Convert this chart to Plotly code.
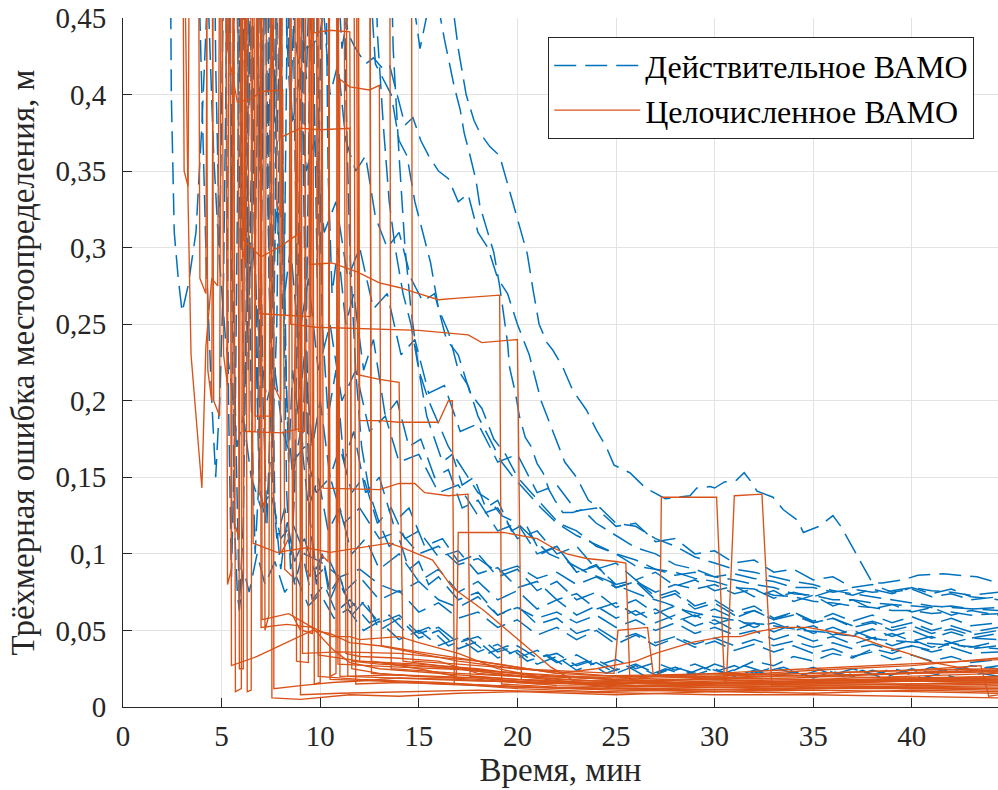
import plotly.graph_objects as go

# ---------------- data (time, min ; 3D error, m) ----------------
b01 = [(2.3,0.70),(2.45,0.40),(2.6,0.31),(2.8,0.28),(3.0,0.258),(3.3,0.275),(3.7,0.31),(4.0,0.38),(4.3,0.47),(4.6,0.36),(4.9,0.29),(5.2,0.24),(5.5,0.21),(5.8,0.17),(6.1,0.19),(6.5,0.15),(7.0,0.13),(7.5,0.14),(8.0,0.11),(8.6,0.12),(9.2,0.1),(10,0.095),(11,0.085),(12,0.09),(13,0.08),(14,0.075),(15,0.082),(16,0.07),(17,0.065),(18,0.072),(19,0.06),(20,0.065),(21,0.058),(22,0.062),(23,0.055),(24,0.06),(25,0.052),(26,0.057),(27,0.05),(28,0.055),(29,0.048),(30,0.052),(31,0.047),(32,0.05),(33,0.044),(34,0.048),(35,0.043),(36,0.046),(37,0.041),(38,0.045),(39,0.04),(40,0.044),(41,0.039),(42,0.042),(43,0.038),(44.4,0.04)]
b02 = [(3.5,0.8),(3.9,0.45),(4.2,0.3),(4.5,0.2),(4.7,0.15),(4.9,0.2),(5.1,0.28),(5.3,0.45),(5.5,0.7),(5.8,0.5),(6.0,0.35),(6.3,0.27),(6.6,0.3),(6.9,0.24),(7.3,0.2),(7.7,0.22),(8.1,0.18),(8.6,0.16),(9.2,0.17),(9.8,0.14),(10.5,0.15),(11.2,0.12),(12,0.13),(13,0.11),(14,0.115),(15,0.1),(16,0.105),(17,0.093),(18,0.097),(19,0.088),(20,0.092),(21,0.084),(22,0.088),(23,0.08),(24,0.085),(25,0.078),(26,0.082),(27,0.075),(28,0.08),(29,0.077),(30,0.08),(31,0.074),(32,0.077),(33,0.071),(34,0.075),(35,0.072),(36,0.076),(37,0.073),(38,0.077),(39,0.074),(40,0.078),(41,0.074),(42,0.077),(43,0.072),(44.4,0.07)]
b03 = [(4.4,0.8),(4.7,0.42),(4.9,0.3),(5.1,0.45),(5.3,0.65),(5.5,0.32),(5.7,0.18),(5.9,0.066),(6.1,0.12),(6.3,0.3),(6.5,0.5),(6.7,0.26),(6.9,0.15),(7.2,0.12),(7.5,0.16),(7.8,0.11),(8.2,0.13),(8.7,0.095),(9.2,0.11),(9.8,0.085),(10.5,0.095),(11.2,0.075),(12,0.085),(13,0.07),(14,0.076),(15,0.062),(16,0.068),(17,0.058),(18,0.062),(19,0.052),(20,0.057),(21,0.047),(22,0.052),(23,0.044),(24,0.05),(25,0.041),(26,0.047),(27,0.04),(28,0.045),(29,0.039),(30,0.043),(31,0.037),(32,0.041),(33,0.036),(34,0.04),(35,0.035),(36,0.038),(37,0.033),(38,0.036),(39,0.031),(40,0.034),(41,0.03),(42,0.033),(43,0.029),(44.4,0.031)]
b04 = [(5.0,0.9),(5.2,0.5),(5.35,0.2),(5.5,0.085),(5.7,0.2),(5.9,0.45),(6.1,0.7),(6.3,0.4),(6.5,0.2),(6.7,0.1),(6.9,0.15),(7.1,0.4),(7.3,0.6),(7.5,0.3),(7.7,0.13),(8.0,0.09),(8.3,0.12),(8.7,0.08),(9.1,0.1),(9.6,0.07),(10.2,0.08),(10.8,0.062),(11.5,0.07),(12.5,0.055),(13.5,0.06),(14.5,0.047),(15.5,0.052),(16.5,0.04),(17.5,0.045),(18.5,0.035),(19.5,0.04),(20.5,0.03),(21.5,0.034),(22.5,0.026),(23.5,0.03),(24.5,0.022),(25.5,0.027),(26.5,0.02),(27.5,0.025),(28.5,0.021),(29.5,0.026),(30.5,0.022),(31.5,0.027),(32.5,0.023),(33.5,0.026),(34.5,0.021),(35.5,0.025),(36.5,0.02),(37.5,0.024),(38.5,0.019),(39.5,0.023),(40.5,0.019),(41.5,0.022),(42.5,0.018),(43.5,0.022),(44.4,0.02)]
b05 = [(5.6,0.9),(5.8,0.45),(5.95,0.3),(6.1,0.45),(6.3,0.75),(6.5,0.4),(6.7,0.3),(6.9,0.45),(7.1,0.7),(7.3,0.35),(7.5,0.25),(7.8,0.33),(8.1,0.26),(8.5,0.3),(8.9,0.24),(9.4,0.28),(9.9,0.22),(10.5,0.25),(11.1,0.2),(11.8,0.22),(12.5,0.18),(13.3,0.19),(14,0.16),(15,0.165),(16,0.14),(17,0.145),(18,0.125),(19,0.13),(20,0.11),(21,0.115),(22,0.1),(23,0.105),(24,0.09),(25,0.094),(26,0.083),(27,0.088),(28,0.079),(29,0.083),(30,0.076),(31,0.079),(32,0.072),(33,0.076),(34,0.069),(35,0.073),(36,0.066),(37,0.07),(38,0.064),(39,0.067),(40,0.062),(41,0.065),(42,0.06),(43,0.063),(44.4,0.06)]
b06 = [(6.0,0.9),(6.2,0.4),(6.35,0.22),(6.5,0.35),(6.7,0.6),(6.9,0.38),(7.1,0.2),(7.3,0.12),(7.5,0.2),(7.7,0.42),(7.9,0.65),(8.1,0.35),(8.3,0.2),(8.6,0.15),(9.0,0.18),(9.4,0.13),(9.9,0.15),(10.4,0.115),(11,0.13),(11.6,0.1),(12.3,0.11),(13,0.09),(14,0.1),(15,0.082),(16,0.09),(17,0.075),(18,0.082),(19,0.07),(20,0.076),(21,0.064),(22,0.07),(23,0.06),(24,0.066),(25,0.058),(26,0.063),(27,0.055),(28,0.06),(29,0.053),(30,0.057),(31,0.05),(32,0.055),(33,0.049),(34,0.054),(35,0.048),(36,0.052),(37,0.047),(38,0.051),(39,0.046),(40,0.05),(41,0.045),(42,0.049),(43,0.045),(44.4,0.048)]
b07 = [(6.6,0.9),(6.8,0.45),(7.0,0.33),(7.2,0.45),(7.4,0.7),(7.6,0.42),(7.8,0.36),(8.0,0.48),(8.2,0.7),(8.4,0.43),(8.6,0.38),(8.9,0.41),(9.3,0.35),(9.7,0.37),(10.2,0.31),(10.8,0.33),(11.4,0.28),(12,0.3),(12.7,0.26),(13.4,0.27),(14.1,0.23),(14.8,0.24),(15.5,0.205),(16.3,0.21),(17.1,0.18),(18,0.185),(19,0.16),(20,0.165),(21,0.14),(22,0.145),(23,0.128),(24,0.13),(25,0.118),(26,0.12),(27,0.108),(28,0.11),(29,0.1),(30,0.102),(31,0.094),(32,0.096),(33,0.088),(34,0.09),(35,0.083),(36,0.085),(37,0.078),(38,0.08),(39,0.075),(40,0.077),(41,0.072),(42,0.074),(43,0.07),(44.4,0.072)]
b08 = [(7.2,0.9),(7.4,0.35),(7.55,0.15),(7.7,0.3),(7.9,0.55),(8.1,0.3),(8.3,0.14),(8.5,0.09),(8.7,0.14),(8.9,0.3),(9.1,0.5),(9.3,0.25),(9.5,0.12),(9.8,0.08),(10.1,0.1),(10.5,0.07),(11,0.085),(11.6,0.06),(12.3,0.07),(13,0.05),(14,0.058),(15,0.045),(16,0.05),(17,0.038),(18,0.043),(19,0.032),(20,0.037),(21,0.028),(22,0.033),(23,0.024),(24,0.029),(25,0.022),(26,0.027),(27,0.021),(28,0.026),(29,0.022),(30,0.028),(31,0.024),(32,0.03),(33,0.027),(34,0.033),(35,0.03),(36,0.035),(37,0.032),(38,0.038),(39,0.035),(40,0.04),(41,0.037),(42,0.042),(43,0.039),(44.4,0.043)]
b09 = [(7.8,0.9),(8.0,0.45),(8.15,0.25),(8.3,0.4),(8.5,0.65),(8.7,0.38),(8.9,0.22),(9.1,0.17),(9.3,0.25),(9.5,0.45),(9.7,0.7),(9.9,0.4),(10.1,0.25),(10.4,0.19),(10.8,0.22),(11.2,0.16),(11.7,0.18),(12.3,0.14),(13,0.15),(13.7,0.12),(14.5,0.13),(15.3,0.105),(16.2,0.11),(17,0.095),(18,0.1),(19,0.085),(20,0.09),(21,0.076),(22,0.082),(23,0.07),(24,0.075),(25,0.065),(26,0.07),(27,0.061),(28,0.066),(29,0.059),(30,0.064),(31,0.058),(32,0.063),(33,0.057),(34,0.062),(35,0.056),(36,0.061),(37,0.056),(38,0.06),(39,0.055),(40,0.059),(41,0.054),(42,0.058),(43,0.053),(44.4,0.055)]
b10 = [(8.5,0.9),(8.7,0.44),(8.9,0.42),(9.2,0.43),(9.6,0.432),(10.0,0.44),(10.3,0.47),(10.6,0.6),(11.0,0.5),(11.4,0.44),(11.8,0.43),(12.3,0.42),(12.7,0.424),(13.1,0.418),(13.5,0.42),(13.9,0.4),(14.3,0.38),(14.7,0.385),(15.1,0.37),(15.5,0.36),(16,0.35),(16.5,0.345),(17,0.33),(17.5,0.335),(18,0.31),(18.5,0.3),(19,0.28),(19.5,0.27),(20,0.25),(20.6,0.23),(21.2,0.2),(21.8,0.18),(22.4,0.16),(23,0.15),(23.6,0.135),(24.2,0.13),(25,0.12),(26,0.118),(27,0.11),(28,0.105),(29,0.098),(30,0.094),(31,0.09),(32,0.088),(33,0.085),(34,0.082),(35,0.08),(36,0.076),(37,0.074),(38,0.072),(39,0.07),(40,0.068),(41,0.066),(42,0.065),(43,0.064),(44.4,0.063)]
b11 = [(9.5,0.9),(9.7,0.4),(9.85,0.28),(10.0,0.4),(10.2,0.6),(10.4,0.35),(10.6,0.27),(10.9,0.3),(11.3,0.25),(11.7,0.27),(12.2,0.22),(12.7,0.24),(13.3,0.19),(13.9,0.2),(14.5,0.17),(15.1,0.175),(15.8,0.15),(16.5,0.155),(17.2,0.13),(18,0.135),(19,0.115),(20,0.12),(21,0.1),(22,0.105),(23,0.088),(24,0.092),(25,0.08),(26,0.083),(27,0.072),(28,0.076),(29,0.066),(30,0.07),(31,0.062),(32,0.066),(33,0.058),(34,0.062),(35,0.055),(36,0.058),(37,0.052),(38,0.055),(39,0.05),(40,0.053),(41,0.048),(42,0.051),(43,0.047),(44.4,0.05)]
b12 = [(10.5,0.9),(10.8,0.5),(11.1,0.43),(11.5,0.46),(11.9,0.6),(12.4,0.5),(12.8,0.42),(13.2,0.41),(13.6,0.4),(14,0.37),(14.4,0.36),(14.8,0.33),(15.2,0.31),(15.6,0.29),(16,0.26),(16.5,0.245),(17,0.22),(17.5,0.21),(18,0.19),(18.6,0.175),(19.2,0.16),(19.8,0.15),(20.5,0.14),(21.2,0.13),(22,0.12),(23,0.112),(24,0.106),(25,0.1),(26,0.096),(27,0.09),(28,0.088),(29,0.084),(30,0.082),(31,0.078),(32,0.077),(33,0.073),(34,0.072),(35,0.069),(36,0.068),(37,0.066),(38,0.065),(39,0.063),(40,0.063),(41,0.061),(42,0.062),(43,0.06),(44.4,0.061)]
b13 = [(14.3,0.5),(15.06,0.43),(15.7,0.47),(16.1,0.45),(16.3,0.436),(16.6,0.418),(16.8,0.405),(17.1,0.39),(17.3,0.375),(17.6,0.36),(17.9,0.344),(18.1,0.327),(18.5,0.31),(18.8,0.297),(19.1,0.275),(19.5,0.238),(19.6,0.222),(19.9,0.205),(20.1,0.19),(20.4,0.176),(20.7,0.17),(21.0,0.159),(21.3,0.153),(21.6,0.142),(21.9,0.135),(22.3,0.127),(22.8,0.127),(23.3,0.129),(24,0.12),(25,0.112),(26,0.104),(27,0.1),(28,0.093),(29,0.09),(30,0.085),(31,0.083),(32,0.08),(33,0.078),(34,0.074),(35,0.073),(36,0.07),(37,0.07),(38,0.068),(39,0.067),(40,0.066),(41,0.065),(42,0.066),(43,0.064),(44.4,0.065)]
b14 = [(16.6,0.47),(17.0,0.43),(17.4,0.40),(17.8,0.383),(18.1,0.375),(18.6,0.366),(19.1,0.36),(19.6,0.337),(20.0,0.32),(20.5,0.296),(20.8,0.272),(21.1,0.25),(21.5,0.238),(21.8,0.233),(22.3,0.222),(22.8,0.207),(23.5,0.194),(24.0,0.181),(24.5,0.17),(24.9,0.158),(25.7,0.153),(26.5,0.143),(27.5,0.136),(28.75,0.138),(29.1,0.143),(29.77,0.144),(30.0,0.143),(30.5,0.147),(31.1,0.148),(31.5,0.153),(31.8,0.148),(32.15,0.141),(32.96,0.137),(33.47,0.129),(34.2,0.122),(34.5,0.114),(35.3,0.118),(36.0,0.125),(36.4,0.118),(36.7,0.111),(37.2,0.1),(37.5,0.093),(38.0,0.081),(38.5,0.081),(39.55,0.083),(40.3,0.086),(41.6,0.087),(43.3,0.085),(44.4,0.081)]
b15 = [(12.6,0.6),(12.9,0.44),(13.2,0.38),(13.5,0.33),(13.8,0.3),(14.2,0.27),(14.6,0.25),(15.0,0.22),(15.5,0.2),(16,0.185),(16.5,0.17),(17,0.16),(17.5,0.15),(18,0.14),(18.6,0.135),(19.2,0.125),(20,0.12),(20.8,0.11),(21.6,0.1),(22.5,0.095),(23.5,0.088),(24.5,0.083),(25.5,0.077),(26.5,0.072),(27.5,0.068),(28.5,0.063),(29.5,0.06),(30.5,0.058),(31.5,0.055),(32.5,0.054),(33.5,0.052),(34.5,0.05),(35.5,0.049),(36.5,0.047),(37.5,0.046),(38.5,0.044),(39.5,0.043),(40.5,0.042),(41.5,0.041),(42.5,0.04),(43.5,0.039),(44.4,0.038)]
b16 = [(11.0,0.7),(11.3,0.4),(11.5,0.3),(11.8,0.22),(12.1,0.17),(12.5,0.14),(13,0.12),(13.5,0.105),(14,0.11),(14.5,0.09),(15,0.095),(15.5,0.08),(16,0.085),(17,0.07),(18,0.075),(19,0.06),(20,0.066),(21,0.054),(22,0.058),(23,0.048),(24,0.052),(25,0.044),(26,0.048),(27,0.042),(28,0.046),(29,0.041),(30,0.045),(31,0.04),(32,0.044),(33,0.04),(34,0.043),(35,0.039),(36,0.042),(37,0.038),(38,0.041),(39,0.037),(40,0.04),(41,0.036),(42,0.039),(43,0.035),(44.4,0.036)]
b17 = [(13.4,0.6),(13.7,0.43),(14.0,0.36),(14.3,0.3),(14.6,0.26),(15,0.22),(15.4,0.19),(15.8,0.175),(16.2,0.16),(16.7,0.165),(17.2,0.145),(17.8,0.15),(18.4,0.13),(19,0.135),(19.7,0.115),(20.4,0.12),(21.2,0.1),(22,0.105),(23,0.088),(24,0.093),(25,0.078),(26,0.082),(27,0.07),(28,0.074),(29,0.064),(30,0.068),(31,0.06),(32,0.063),(33,0.057),(34,0.06),(35,0.055),(36,0.058),(37,0.053),(38,0.056),(39,0.052),(40,0.055),(41,0.05),(42,0.053),(43,0.049),(44.4,0.052)]
b18 = [(8.9,0.8),(9.1,0.4),(9.3,0.2),(9.5,0.12),(9.8,0.09),(10.1,0.1),(10.5,0.075),(11,0.085),(11.5,0.065),(12,0.07),(13,0.055),(14,0.06),(15,0.048),(16,0.052),(17,0.042),(18,0.046),(19,0.036),(20,0.04),(21,0.032),(22,0.035),(23,0.027),(24,0.031),(25,0.024),(26,0.028),(27,0.022),(28,0.026),(29,0.021),(30,0.025),(31,0.02),(32,0.024),(33,0.02),(34,0.023),(35,0.019),(36,0.023),(37,0.02),(38,0.024),(39,0.021),(40,0.025),(41,0.022),(42,0.026),(43,0.024),(44.4,0.027)]
b19 = [(5.2,0.9),(5.4,0.45),(5.55,0.33),(5.7,0.45),(5.9,0.8),(6.1,0.45),(6.25,0.36),(6.4,0.48),(6.6,0.8),(6.8,0.44),(6.95,0.38),(7.1,0.48),(7.3,0.8),(7.5,0.45),(7.7,0.4),(7.9,0.5),(8.1,0.8),(8.3,0.44),(8.5,0.39),(8.7,0.47),(8.9,0.8),(9.1,0.45),(9.3,0.41),(9.5,0.5),(9.7,0.8),(10.2,0.45),(10.5,0.4),(10.9,0.42),(11.3,0.37),(11.8,0.35),(12.3,0.36),(12.8,0.32),(13.4,0.3),(14,0.31),(14.6,0.28),(15.2,0.265),(15.8,0.27),(16.4,0.24),(17,0.23),(17.6,0.205),(18.2,0.195),(18.8,0.175),(19.4,0.165),(20,0.15),(20.7,0.14),(21.4,0.13),(22.1,0.12),(23,0.115),(24,0.105),(25,0.1),(26,0.092),(27,0.09),(28,0.086),(29,0.088),(30,0.085),(31,0.087),(32,0.084),(33,0.082),(34,0.078),(35,0.078),(36,0.075),(37,0.077),(38,0.075),(39,0.076),(40,0.078),(41,0.076),(42,0.075),(43,0.073),(44.4,0.075)]
b20 = [(5.8,0.9),(6.0,0.3),(6.15,0.19),(6.3,0.28),(6.5,0.6),(6.7,0.3),(6.85,0.2),(7.0,0.3),(7.2,0.55),(7.4,0.28),(7.6,0.18),(7.8,0.25),(8.0,0.45),(8.2,0.25),(8.4,0.16),(8.6,0.22),(8.9,0.19),(9.2,0.23),(9.6,0.17),(10,0.2),(10.5,0.15),(11,0.17),(11.6,0.14),(12.2,0.15),(12.9,0.12),(13.6,0.13),(14.3,0.11),(15,0.115),(16,0.098),(17,0.102),(18,0.087),(19,0.091),(20,0.078),(21,0.082),(22,0.07),(23,0.074),(24,0.064),(25,0.068),(26,0.06),(27,0.064),(28,0.056),(29,0.06),(30,0.054),(31,0.058),(32,0.052),(33,0.055),(34,0.05),(35,0.053),(36,0.047),(37,0.05),(38,0.045),(39,0.048),(40,0.043),(41,0.046),(42,0.042),(43,0.045),(44.4,0.044)]
b21 = [(5.3,0.9),(5.5,0.3),(5.65,0.12),(5.8,0.074),(5.9,0.063),(6.1,0.09),(6.4,0.075),(6.8,0.1),(7.2,0.08),(7.7,0.095),(8.2,0.075),(8.8,0.085),(9.4,0.066),(10,0.074),(10.7,0.058),(11.4,0.064),(12.2,0.05),(13,0.056),(14,0.044),(15,0.05),(16,0.04),(17,0.045),(18,0.036),(19,0.041),(20,0.032),(21,0.037),(22,0.029),(23,0.034),(24,0.027),(25,0.031),(26,0.025),(27,0.029),(28,0.024),(29,0.028),(30,0.023),(31,0.027),(32,0.022),(33,0.026),(34,0.022),(35,0.026),(36,0.021),(37,0.025),(38,0.021),(39,0.025),(40,0.022),(41,0.026),(42,0.023),(43,0.027),(44.4,0.025)]

o01 = [(9.0,0.7),(9.55,0.44),(10.5,0.442),(11.5,0.441),(11.6,0.025),(13,0.022),(15,0.02),(18,0.019),(21,0.016),(25,0.014),(30,0.013),(35,0.012),(40,0.012),(44.4,0.011)]
o02 = [(5.1,0.7),(5.3,0.43),(5.8,0.395),(6.5,0.397),(7.0,0.402),(8.1,0.403),(8.2,0.09),(8.6,0.085),(9.0,0.6),(9.8,0.6),(9.9,0.034),(12,0.03),(14,0.028),(17,0.025),(20,0.02),(24,0.017),(28,0.018),(32,0.02),(36,0.021),(40,0.022),(44.4,0.023)]
o03 = [(7.85,0.7),(8.0,0.372),(9.0,0.378),(10.0,0.377),(11.5,0.378),(11.6,0.03),(13,0.028),(16,0.026),(19,0.022),(22,0.018),(26,0.016),(30,0.016),(34,0.017),(38,0.018),(42,0.019),(44.4,0.019)]
o04 = [(10.9,0.12),(11.0,0.41),(11.5,0.405),(12.5,0.403),(13.0,0.406),(13.1,0.04),(15,0.036),(17,0.032),(19,0.028),(22,0.022),(25,0.02),(30,0.021),(35,0.022),(40,0.024),(44.4,0.025)]
o05 = [(5.9,0.7),(6.1,0.305),(7.0,0.294),(8.0,0.301),(9.0,0.31),(9.1,0.05),(9.6,0.048),(9.7,0.7),(10.4,0.7),(10.5,0.018),(13,0.017),(16,0.015),(20,0.013),(25,0.011),(30,0.01),(35,0.011),(40,0.01),(44.4,0.009)]
o06 = [(9.4,0.7),(9.45,0.289),(10.6,0.29),(11.9,0.284),(13,0.277),(14,0.274),(15,0.27),(16,0.266),(17,0.267),(18,0.268),(19.1,0.269),(19.2,0.015),(22,0.013),(26,0.012),(30,0.013),(35,0.014),(40,0.015),(44.4,0.016)]
o07 = [(8.4,0.7),(8.5,0.25),(9.8,0.248),(12,0.247),(14,0.246),(15,0.246),(17.5,0.243),(18.2,0.238),(20.0,0.24),(20.2,0.018),(23,0.016),(27,0.015),(31,0.016),(35,0.017),(40,0.018),(44.4,0.017)]
o08 = [(6.8,0.7),(6.9,0.257),(8.0,0.256),(9.5,0.255),(9.6,0.7),(11.3,0.7),(11.4,0.02),(14,0.019),(18,0.017),(22,0.016),(26,0.014),(30,0.014),(35,0.015),(40,0.015),(44.4,0.016)]
o09 = [(11.8,0.7),(11.9,0.217),(13,0.214),(14,0.212),(14.2,0.03),(16,0.027),(19,0.023),(23,0.02),(27,0.021),(31,0.022),(35,0.02),(40,0.019),(44.4,0.018)]
o10 = [(11.9,0.7),(12.0,0.187),(13,0.187),(14,0.186),(16,0.186),(16.5,0.2),(16.7,0.2),(16.8,0.015),(19,0.014),(23,0.012),(27,0.012),(31,0.013),(36,0.014),(40,0.013),(44.4,0.013)]
o11 = [(10.05,0.7),(10.15,0.143),(13,0.142),(14,0.146),(14.8,0.146),(15.3,0.14),(16.5,0.138),(17.5,0.139),(17.6,0.02),(20,0.018),(24,0.016),(28,0.015),(32,0.016),(36,0.017),(40,0.018),(44.4,0.02)]
o12 = [(12.5,0.7),(12.6,0.03),(15,0.025),(16.9,0.02),(17.0,0.114),(19.3,0.114),(21,0.11),(21.8,0.104),(22.5,0.1),(23.5,0.097),(25,0.095),(25.5,0.094),(25.7,0.018),(28,0.016),(32,0.015),(36,0.016),(40,0.017),(44.4,0.017)]
o13 = [(13.5,0.7),(13.6,0.025),(17,0.022),(20,0.02),(22,0.02),(25,0.018),(27.2,0.02),(27.3,0.137),(30.1,0.137),(30.5,0.016),(30.6,0.016),(31.0,0.138),(32.4,0.139),(32.9,0.014),(35,0.013),(40,0.012),(44.4,0.012)]
o14 = [(14.6,0.7),(14.7,0.03),(17,0.028),(20,0.025),(24.9,0.022),(25.1,0.05),(26.6,0.052),(26.9,0.02),(30,0.019),(35,0.018),(40,0.017),(44.4,0.016)]
o15 = [(6.4,0.7),(6.6,0.107),(7.8,0.101),(9.3,0.104),(10.5,0.101),(12,0.104),(13.5,0.107),(14.2,0.104),(15.7,0.096),(16.7,0.078),(18.3,0.063),(20.5,0.039),(21.7,0.026),(23,0.016),(25,0.012),(30,0.011),(35,0.012),(40,0.013),(44.4,0.012)]
o16 = [(9.0,0.7),(9.1,0.035),(11,0.036),(14,0.035),(18,0.03),(22,0.022),(24,0.025),(26,0.03),(27,0.035),(28.8,0.042),(29.6,0.044),(30.4,0.046),(31.3,0.046),(32.1,0.049),(33.3,0.052),(34.7,0.052),(36,0.049),(37.2,0.046),(38.5,0.04),(39.8,0.035),(41.1,0.029),(42.3,0.026),(44.4,0.022)]
o17 = [(5.4,0.7),(5.5,0.027),(6.8,0.033),(7.3,0.036),(9.6,0.05),(10.5,0.048),(11.5,0.042),(13,0.04),(15,0.035),(17,0.03),(20,0.025),(25,0.02),(30,0.02),(35,0.022),(40,0.024),(43.5,0.027),(43.9,0.007),(44.4,0.008)]
o18 = [(7.6,0.7),(7.65,0.012),(9,0.014),(10.6,0.016),(12,0.017),(14,0.019),(17,0.018),(20,0.016),(25,0.015),(30,0.017),(35,0.018),(40,0.02),(44.4,0.022)]
o19 = [(7.5,0.7),(7.55,0.006),(9,0.005),(11.5,0.008),(14,0.007),(17,0.009),(20,0.01),(25,0.008),(30,0.01),(35,0.009),(40,0.011),(44.4,0.01)]
o20 = [(7.0,0.7),(7.05,0.057),(8.4,0.061),(9.6,0.052),(10.6,0.046),(11.5,0.046),(12,0.044),(14,0.046),(15,0.042),(17,0.035),(19,0.025),(21,0.02),(25,0.018),(30,0.02),(35,0.024),(40,0.027),(44.4,0.032)]
o21 = [(6.95,0.7),(7.0,0.052),(8.3,0.054),(9.6,0.052),(10.6,0.038),(11.5,0.029),(13,0.025),(16,0.022),(20,0.018),(25,0.013),(30,0.015),(35,0.016),(40,0.017),(44.4,0.018)]
o22 = [(2.9,0.7),(3.3,0.33),(3.45,0.23),(4.0,0.143),(4.2,0.235),(4.5,0.28),(4.8,0.275),(5.0,0.7),(6.6,0.7),(6.7,0.19),(7.5,0.19),(7.6,0.7),(8.9,0.7),(9.0,0.008),(11,0.009),(14,0.01),(18,0.011),(22,0.01),(26,0.009),(30,0.008),(35,0.008),(40,0.007),(44.4,0.006)]
o23 = [(4.5,0.6),(4.6,0.2),(4.9,0.19),(5.0,0.6),(5.6,0.6),(5.7,0.01),(6.0,0.012),(6.1,0.6),(6.8,0.6),(6.9,0.14),(7.2,0.13),(7.3,0.6),(8.5,0.6),(8.6,0.06),(9.0,0.05),(9.1,0.6),(9.8,0.6),(9.9,0.02),(12,0.018),(16,0.016),(20,0.013),(25,0.012),(30,0.01),(35,0.012),(40,0.013),(44.4,0.014)]
o24 = [(3.8,0.6),(3.9,0.28),(4.2,0.27),(4.3,0.6),(5.2,0.6),(5.3,0.08),(5.5,0.09),(5.6,0.6),(6.3,0.6),(6.4,0.18),(6.7,0.18),(6.8,0.6),(7.9,0.6),(8.0,0.1),(8.4,0.11),(8.5,0.6),(9.6,0.6),(9.7,0.015),(10,0.016),(10.1,0.6),(10.9,0.6),(11.0,0.02),(14,0.021),(18,0.019),(22,0.014),(26,0.013),(30,0.014),(35,0.015),(40,0.017),(44.4,0.019)]
o25 = [(5.0,0.6),(5.1,0.23),(5.3,0.21),(5.4,0.6),(6.0,0.6),(6.05,0.3),(6.2,0.29),(6.3,0.6),(7.1,0.6),(7.2,0.05),(7.4,0.06),(7.5,0.6),(8.8,0.6),(8.9,0.18),(9.2,0.18),(9.3,0.6),(10.4,0.6),(10.5,0.02),(10.8,0.022),(10.9,0.6),(11.9,0.6),(12.0,0.03),(15,0.028),(18,0.025),(21,0.02),(25,0.019),(30,0.022),(35,0.025),(40,0.028),(44.4,0.031)]
o26 = [(5.6,0.6),(5.65,0.12),(5.9,0.11),(6.0,0.6),(7.6,0.6),(7.65,0.21),(8.0,0.2),(8.1,0.6),(9.2,0.6),(9.3,0.09),(9.5,0.085),(9.6,0.6),(11.2,0.6),(11.3,0.035),(12,0.033),(13.8,0.032),(16,0.03),(18,0.022),(20,0.02),(23,0.016),(26,0.014),(30,0.015),(35,0.017),(40,0.019),(44.4,0.02)]
o27 = [(6.2,0.6),(6.3,0.01),(6.5,0.011),(6.6,0.6),(7.7,0.6),(7.8,0.33),(8.0,0.32),(8.1,0.6),(9.9,0.6),(10.0,0.1),(10.4,0.095),(10.5,0.6),(11.7,0.6),(11.8,0.015),(14,0.016),(17,0.015),(20,0.012),(24,0.01),(28,0.011),(32,0.012),(36,0.013),(40,0.014),(44.4,0.015)]
o28 = [(3.0,0.6),(3.1,0.35),(3.3,0.34),(3.4,0.6),(4.2,0.6),(4.3,0.22),(4.5,0.2),(4.6,0.6),(5.8,0.6),(5.9,0.025),(6.1,0.025),(6.2,0.6),(8.7,0.6),(8.8,0.03),(9.4,0.029),(9.5,0.6),(12.5,0.6),(12.6,0.022),(15,0.02),(18,0.018),(21,0.015),(25,0.016),(29,0.018),(33,0.02),(37,0.021),(41,0.023),(44.4,0.024)]
o29 = [(6.0,0.7),(6.1,0.18),(8.1,0.179),(9.0,0.182),(9.1,0.7),(10.8,0.7),(10.9,0.028),(14,0.026),(18,0.024),(22,0.02),(26,0.017),(30,0.018),(34,0.019),(38,0.021),(42,0.023),(44.4,0.024)]

blue_series = [b01, b02, b03, b04, b05, b06, b07, b08, b09, b10, b11, b12, b13, b14, b15, b16, b17, b18, b19, b20, b21]
orange_series = [o01, o02, o03, o04, o05, o06, o07, o08, o09, o10, o11, o12, o13, o14, o15, o16, o17, o18, o19, o20, o21, o22, o23, o24, o25, o26, o27, o28, o29]

x_ticks = [0, 5, 10, 15, 20, 25, 30, 35, 40]
y_ticks = [0, 0.05, 0.1, 0.15, 0.2, 0.25, 0.3, 0.35, 0.4, 0.45]
y_tick_text = ["0", "0,05", "0,1", "0,15", "0,2", "0,25", "0,3", "0,35", "0,4", "0,45"]

name_blue = "Действительное ВАМО"
name_orange = "Целочисленное ВАМО"
x_title = "Время, мин"
y_title = "Трёхмерная ошибка местоопределения, м"

BLUE = "#0072BD"
ORANGE = "#D95319"
FONT = "Liberation Serif"
INK = "#262626"

fig = go.Figure()
for i, s in enumerate(blue_series):
    fig.add_trace(go.Scatter(
        x=[p[0] for p in s], y=[p[1] for p in s], mode="lines",
        line=dict(color=BLUE, width=1.5, dash="22px,9px"),
        name=name_blue, legendgroup="blue", showlegend=(i == 0)))
for i, s in enumerate(orange_series):
    fig.add_trace(go.Scatter(
        x=[p[0] for p in s], y=[p[1] for p in s], mode="lines",
        line=dict(color=ORANGE, width=1.35),
        name=name_orange, legendgroup="orange", showlegend=(i == 0)))

fig.update_layout(
    width=998, height=790,
    margin=dict(l=123, r=0, t=18, b=83),
    paper_bgcolor="white", plot_bgcolor="white",
    font=dict(family=FONT, color=INK, size=28),
    showlegend=True,
    legend=dict(x=0.486, y=0.972, xanchor="left", yanchor="top",
                bgcolor="white", bordercolor=INK, borderwidth=1,
                font=dict(family=FONT, size=32, color="black"),
                itemwidth=86, tracegroupgap=0),
    xaxis=dict(range=[0, 44.37], tickvals=x_ticks, ticks="inside", ticklen=9,
               tickcolor=INK, showline=True, linecolor=INK, linewidth=1,
               showgrid=True, gridcolor="#e3e3e3", gridwidth=1, zeroline=False,
               ticklabelstandoff=3,
               tickfont=dict(family=FONT, size=29, color=INK),
               title=dict(text=x_title, font=dict(family=FONT, size=33, color=INK), standoff=3)),
    yaxis=dict(range=[0, 0.45], tickvals=y_ticks, ticktext=y_tick_text, ticks="inside",
               ticklen=9, tickcolor=INK, showline=True, linecolor=INK, linewidth=1,
               showgrid=True, gridcolor="#e3e3e3", gridwidth=1, zeroline=False,
               ticklabelstandoff=10,
               tickfont=dict(family=FONT, size=29, color=INK),
               title=dict(text=y_title, font=dict(family=FONT, size=33, color=INK), standoff=10)),
)

fig.write_html("out.html")
